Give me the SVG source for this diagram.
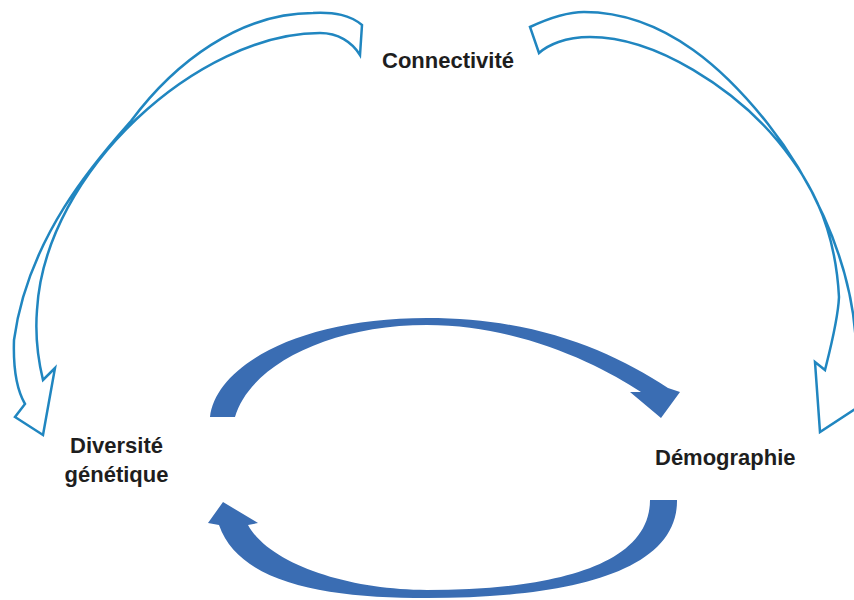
<svg xmlns="http://www.w3.org/2000/svg" width="854" height="600" viewBox="0 0 854 600">
  <style>
    .lbl { font-family: "Liberation Sans", Arial, sans-serif; font-weight: bold; font-size: 22px; fill: #1e1e1e; }
    .outline { fill: #ffffff; stroke: #2086c0; stroke-width: 2.5; stroke-linejoin: miter; }
    .solid { fill: #3a6db3; stroke: none; }
  </style>
  <rect width="854" height="600" fill="#ffffff"/>
  <g id="connectors">
    <path id="arrow-connectivite-diversite" class="outline" d="M362,25 C350,15 335,12 313,13 C240,13 175,62 131,121 C100,156 28,235 14,340 C13,370 18,392 25,404 L15,417 L43,435 L55,368 L43,380 C37,355 35,335 37,310 C45,170 200,33 320,33 C338,33 352,42 360,55 Z"/>
    <path id="arrow-connectivite-demographie" class="outline" d="M530,27 C545,20 565,12 584,12 C668,12 730,76 768,124 C803,168 852,252 856,345 C857,365 858,380 858,390 L872,398 L820,432 L815,362 L825,370 C830,350 838,320 839,297 C835,222 808,175 770,132 C735,93 660,37 590,37 C565,37 548,45 539,53 Z"/>
    <path id="arrow-diversite-demographie" class="solid" d="M210,417 C216,365 300,318 427,318 C535,318 610,350 668,388 L680,392 L661,418 L630,392 L641,392 C600,365 520,325 427,325 C330,325 250,365 235,417 Z"/>
    <path id="arrow-demographie-diversite" class="solid" d="M677,500 C678,575 560,598 427,598 C330,598 240,585 219,525 L208,523 L223,502 L258,523 L248,525 C270,565 350,590 427,590 C540,590 650,570 650,500 Z"/>
  </g>
  <g id="node-connectivite">
    <text class="lbl" x="382" y="68">Connectivité</text>
  </g>
  <g id="node-diversite">
    <text class="lbl" x="116.5" y="453" text-anchor="middle">Diversité</text>
    <text class="lbl" x="116.5" y="482" text-anchor="middle">génétique</text>
  </g>
  <g id="node-demographie">
    <text class="lbl" x="655" y="465">Démographie</text>
  </g>
</svg>
